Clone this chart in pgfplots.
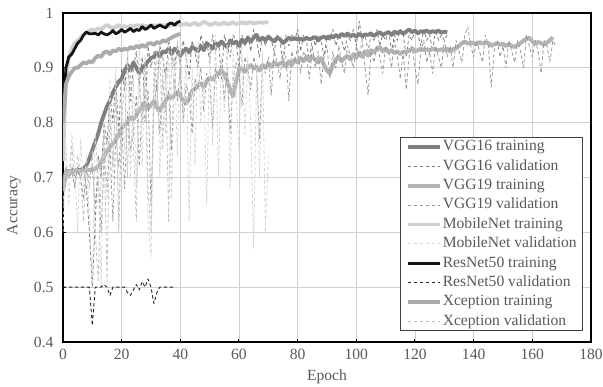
\documentclass[border=0pt]{standalone}
\usepackage{fontspec}
\setmainfont{Liberation Serif}
\usepackage{pgfplots}
\pgfplotsset{compat=1.18}
\definecolor{gridc}{HTML}{D0D0D0}
\definecolor{labc}{HTML}{595959}
\definecolor{legc}{HTML}{404040}
\definecolor{v16t}{HTML}{808080}
\definecolor{v16v}{HTML}{7A7A7A}
\definecolor{v19t}{HTML}{B4B4B4}
\definecolor{v19v}{HTML}{999999}
\definecolor{mbt}{HTML}{D0D0D0}
\definecolor{mbv}{HTML}{D4D4D4}
\definecolor{rnt}{HTML}{141414}
\definecolor{rnv}{HTML}{262626}
\definecolor{xct}{HTML}{ABABAB}
\definecolor{xcv}{HTML}{C0C0C0}
\newcommand\cfont{\fontsize{15.6}{18}\selectfont}
\begin{document}
\begin{tikzpicture}
\useasboundingbox (-63pt,-44pt) rectangle (540pt,342pt);
\begin{axis}[
 scale only axis, width=528pt, height=329pt,
 xmin=0, xmax=180, ymin=0.4, ymax=1,
 xtick={0,20,...,180}, ytick={0.4,0.5,0.6,0.7,0.8,0.9,1},
 yticklabels={0.4,0.5,0.6,0.7,0.8,0.9,1},
 xtick pos=bottom, ytick pos=left,
 grid=major, grid style={color=gridc, line width=0.8pt},
 axis line style={black, line width=1.8pt},
 tick style={black, line width=1pt}, major tick length=3pt, tick align=inside,
 ticklabel style={font=\cfont, text=labc},
 /pgf/number format/assume math mode=true,
 yticklabel shift=6pt, xticklabel shift=4pt,
 xlabel={Epoch}, ylabel={Accuracy},
 label style={font=\cfont, text=labc},
 xlabel style={at={(axis description cs:0.5,-0.106)}, anchor=center},
 ylabel style={at={(axis description cs:-0.0928,0.416)}, anchor=center},
 legend cell align=left,
 legend style={at={(axis description cs:0.985,0.033)}, anchor=south east,
   draw=legc, line width=0.8pt, fill=white, font=\cfont, text=labc,
   inner xsep=5pt, inner ysep=2pt, row sep=4.9pt,
   nodes={inner xsep=1pt, inner ysep=0pt, text height=11pt, text depth=3.5pt}},
 legend image code/.code={\draw[#1] (0pt,0pt) -- (32pt,0pt);},
 every axis plot/.append style={line join=round},
]
% VGG16 training
\addplot[v16t, line width=3.8pt] coordinates {
(0,0.68)(1,0.71)(2,0.712)(3,0.712)(4,0.713)(5,0.713)(6,0.714)(7,0.716)(8,0.722)(9,0.735)
(10,0.75)(11,0.765)(12,0.78)(13,0.8)(14,0.815)(15,0.83)(16,0.84)(17,0.855)(18,0.865)(19,0.875)
(20,0.88)(21,0.895)(22,0.905)(23,0.895)(24,0.91)(25,0.9)(26,0.89)(27,0.9)(28,0.905)(29,0.912)
(30,0.918)(31,0.92)(32,0.928)(33,0.92)(34,0.93)(35,0.928)(36,0.935)(37,0.925)(38,0.935)(39,0.93)
(40,0.922)(41,0.93)(42,0.935)(43,0.928)(44,0.938)(45,0.935)(46,0.93)(47,0.94)(48,0.932)(49,0.945)
(50,0.94)(51,0.935)(52,0.945)(53,0.94)(54,0.948)(55,0.942)(56,0.938)(57,0.95)(58,0.944)(59,0.948)
(60,0.94)(61,0.952)(62,0.945)(63,0.955)(64,0.948)(65,0.955)(66,0.96)(67,0.95)(68,0.955)(69,0.95)
(70,0.957)(71,0.952)(72,0.948)(73,0.955)(74,0.952)(75,0.945)(76,0.95)(77,0.955)(78,0.952)(79,0.954)
(80,0.952)(81,0.953)(82,0.951)(83,0.955)(84,0.952)(85,0.954)(86,0.956)(87,0.95)(88,0.955)(89,0.957)
(90,0.953)(91,0.958)(92,0.955)(93,0.96)(94,0.956)(95,0.962)(96,0.958)(97,0.963)(98,0.958)(99,0.96)
(100,0.957)(101,0.962)(102,0.958)(103,0.961)(104,0.96)(105,0.963)(106,0.958)(107,0.962)(108,0.965)(109,0.96)
(110,0.963)(111,0.965)(112,0.96)(113,0.966)(114,0.963)(115,0.967)(116,0.962)(117,0.966)(118,0.97)(119,0.965)
(120,0.968)(121,0.963)(122,0.967)(123,0.965)(124,0.968)(125,0.964)(126,0.967)(127,0.965)(128,0.968)(129,0.964)
(130,0.966)(131,0.965)};
% VGG16 validation
\addplot[v16v, line width=0.8pt, dash pattern=on 3.5pt off 2.5pt] coordinates {
(0,0.7)(1,0.71)(2,0.7)(3,0.72)(4,0.7)(5,0.71)(6,0.7)(7,0.72)(8,0.68)(9,0.6)
(10,0.5)(11,0.62)(12,0.74)(13,0.7)(14,0.8)(15,0.76)(16,0.85)(17,0.8)(18,0.88)(19,0.78)
(20,0.9)(21,0.86)(22,0.92)(23,0.84)(24,0.9)(25,0.93)(26,0.87)(27,0.92)(28,0.82)(29,0.94)
(30,0.9)(31,0.93)(32,0.86)(33,0.94)(34,0.92)(35,0.88)(36,0.95)(37,0.93)(38,0.9)(39,0.94)
(40,0.91)(41,0.95)(42,0.92)(43,0.88)(44,0.95)(45,0.93)(46,0.9)(47,0.96)(48,0.94)(49,0.95)
(50,0.91)(51,0.96)(52,0.93)(53,0.95)(54,0.88)(55,0.96)(56,0.94)(57,0.92)(58,0.96)(59,0.95)
(60,0.9)(61,0.96)(62,0.94)(63,0.96)(64,0.93)(65,0.97)(66,0.95)(67,0.92)(68,0.96)(69,0.94)
(70,0.96)(71,0.95)(72,0.93)(73,0.96)(74,0.95)(75,0.9)(76,0.96)(77,0.94)(78,0.96)(79,0.95)
(80,0.97)(81,0.93)(82,0.96)(83,0.95)(84,0.91)(85,0.96)(86,0.94)(87,0.96)(88,0.95)(89,0.92)
(90,0.96)(91,0.95)(92,0.97)(93,0.94)(94,0.96)(95,0.95)(96,0.93)(97,0.96)(98,0.95)(99,0.97)
(100,0.94)(101,0.985)(102,0.95)(103,0.96)(104,0.93)(105,0.96)(106,0.95)(107,0.97)(108,0.94)(109,0.96)
(110,0.95)(111,0.97)(112,0.93)(113,0.96)(114,0.95)(115,0.97)(116,0.96)(117,0.92)(118,0.96)(119,0.95)
(120,0.97)(121,0.96)(122,0.94)(123,0.97)(124,0.95)(125,0.96)(126,0.93)(127,0.97)(128,0.95)(129,0.96)
(130,0.95)(131,0.96)};
% VGG19 training
\addplot[v19t, line width=4pt] coordinates {
(0,0.675)(1,0.71)(2,0.711)(3,0.711)(4,0.712)(5,0.712)(6,0.712)(7,0.713)(8,0.713)(9,0.714)
(10,0.714)(11,0.716)(12,0.72)(13,0.728)(14,0.738)(15,0.748)(16,0.756)(17,0.762)(18,0.768)(19,0.778)
(20,0.79)(21,0.795)(22,0.8)(23,0.81)(24,0.806)(25,0.815)(26,0.822)(27,0.83)(28,0.835)(29,0.826)
(30,0.832)(31,0.84)(32,0.828)(33,0.822)(34,0.832)(35,0.84)(36,0.848)(37,0.845)(38,0.85)(39,0.856)
(40,0.85)(41,0.84)(42,0.835)(43,0.845)(44,0.858)(45,0.862)(46,0.868)(47,0.872)(48,0.865)(49,0.875)
(50,0.882)(51,0.878)(52,0.885)(53,0.89)(54,0.896)(55,0.888)(56,0.875)(57,0.86)(58,0.848)(59,0.875)
(60,0.895)(61,0.9)(62,0.893)(63,0.9)(64,0.905)(65,0.898)(66,0.902)(67,0.895)(68,0.905)(69,0.9)
(70,0.908)(71,0.902)(72,0.91)(73,0.905)(74,0.908)(75,0.91)(76,0.902)(77,0.912)(78,0.905)(79,0.915)
(80,0.91)(81,0.918)(82,0.912)(83,0.92)(84,0.914)(85,0.92)(86,0.915)(87,0.91)(88,0.918)(89,0.905)
(90,0.895)(91,0.89)(92,0.905)(93,0.915)(94,0.92)(95,0.912)(96,0.918)(97,0.922)(98,0.915)(99,0.925)
(100,0.918)(101,0.928)(102,0.92)(103,0.93)(104,0.922)(105,0.932)(106,0.928)(107,0.935)(108,0.938)(109,0.93)
(110,0.935)(111,0.928)(112,0.932)(113,0.927)(114,0.93)(115,0.925)(116,0.93)(117,0.928)(118,0.932)(119,0.935)
(120,0.93)(121,0.932)(122,0.935)(123,0.932)(124,0.934)(125,0.932)(126,0.935)(127,0.933)(128,0.932)(129,0.934)
(130,0.932)(131,0.935)(132,0.93)(133,0.934)(134,0.936)(135,0.94)(136,0.945)(137,0.948)(138,0.944)(139,0.946)
(140,0.945)(141,0.943)(142,0.947)(143,0.944)(144,0.946)(145,0.945)(146,0.94)(147,0.943)(148,0.945)(149,0.942)
(150,0.944)(151,0.94)(152,0.943)(153,0.94)(154,0.938)(155,0.942)(156,0.945)(157,0.95)(158,0.953)(159,0.955)
(160,0.948)(161,0.944)(162,0.947)(163,0.945)(164,0.942)(165,0.946)(166,0.95)(167,0.956)};
% VGG19 validation
\addplot[v19v, line width=0.8pt, dash pattern=on 3.5pt off 2.5pt] coordinates {
(0,0.7)(1,0.72)(2,0.7)(3,0.71)(4,0.68)(5,0.72)(6,0.7)(7,0.66)(8,0.71)(9,0.7)
(10,0.72)(11,0.65)(12,0.7)(13,0.6)(14,0.74)(15,0.68)(16,0.76)(17,0.62)(18,0.78)(19,0.72)
(20,0.8)(21,0.68)(22,0.82)(23,0.75)(24,0.78)(25,0.85)(26,0.72)(27,0.84)(28,0.8)(29,0.86)
(30,0.65)(31,0.83)(32,0.87)(33,0.78)(34,0.88)(35,0.82)(36,0.86)(37,0.75)(38,0.88)(39,0.84)
(40,0.9)(41,0.8)(42,0.87)(43,0.85)(44,0.78)(45,0.88)(46,0.86)(47,0.9)(48,0.82)(49,0.89)
(50,0.87)(51,0.79)(52,0.9)(53,0.88)(54,0.91)(55,0.84)(56,0.9)(57,0.78)(58,0.88)(59,0.91)
(60,0.89)(61,0.83)(62,0.92)(63,0.9)(64,0.86)(65,0.92)(66,0.9)(67,0.77)(68,0.91)(69,0.89)
(70,0.92)(71,0.85)(72,0.93)(73,0.91)(74,0.88)(75,0.93)(76,0.92)(77,0.84)(78,0.93)(79,0.91)
(80,0.94)(81,0.89)(82,0.93)(83,0.92)(84,0.88)(85,0.94)(86,0.9)(87,0.93)(88,0.87)(89,0.92)
(90,0.94)(91,0.88)(92,0.93)(93,0.9)(94,0.94)(95,0.91)(96,0.89)(97,0.94)(98,0.92)(99,0.9)
(100,0.94)(101,0.92)(102,0.95)(103,0.9)(104,0.85)(105,0.93)(106,0.91)(107,0.94)(108,0.92)(109,0.89)
(110,0.94)(111,0.93)(112,0.9)(113,0.95)(114,0.92)(115,0.88)(116,0.93)(117,0.86)(118,0.92)(119,0.94)
(120,0.9)(121,0.87)(122,0.93)(123,0.95)(124,0.91)(125,0.93)(126,0.89)(127,0.94)(128,0.92)(129,0.9)
(130,0.95)(131,0.92)(132,0.94)(133,0.9)(134,0.95)(135,0.93)(136,0.91)(137,0.96)(138,0.975)(139,0.94)
(140,0.92)(141,0.95)(142,0.93)(143,0.91)(144,0.96)(145,0.94)(146,0.865)(147,0.93)(148,0.95)(149,0.92)
(150,0.94)(151,0.9)(152,0.95)(153,0.93)(154,0.91)(155,0.95)(156,0.93)(157,0.9)(158,0.96)(159,0.94)
(160,0.92)(161,0.95)(162,0.93)(163,0.89)(164,0.95)(165,0.94)(166,0.91)(167,0.95)(168,0.94)};
% MobileNet training
\addplot[mbt, line width=3.8pt] coordinates {
(0,0.73)(1,0.88)(2,0.92)(3,0.935)(4,0.945)(5,0.95)(6,0.955)(7,0.96)(8,0.965)(9,0.968)
(10,0.97)(11,0.968)(12,0.972)(13,0.97)(14,0.975)(15,0.978)(16,0.975)(17,0.972)(18,0.975)(19,0.978)
(20,0.974)(21,0.976)(22,0.974)(23,0.977)(24,0.975)(25,0.978)(26,0.976)(27,0.978)(28,0.975)(29,0.977)
(30,0.976)(31,0.978)(32,0.976)(33,0.979)(34,0.977)(35,0.978)(36,0.976)(37,0.979)(38,0.977)(39,0.98)
(40,0.978)(41,0.979)(42,0.981)(43,0.978)(44,0.98)(45,0.982)(46,0.978)(47,0.98)(48,0.984)(49,0.982)
(50,0.978)(51,0.98)(52,0.982)(53,0.979)(54,0.98)(55,0.983)(56,0.979)(57,0.981)(58,0.983)(59,0.98)
(60,0.981)(61,0.983)(62,0.981)(63,0.982)(64,0.983)(65,0.981)(66,0.982)(67,0.983)(68,0.982)(69,0.983)
(70,0.983)};
% MobileNet validation
\addplot[mbv, line width=0.8pt, dash pattern=on 3.5pt off 2.5pt] coordinates {
(0,0.6)(1,0.76)(2,0.65)(3,0.78)(4,0.72)(5,0.6)(6,0.77)(7,0.68)(8,0.74)(9,0.62)
(10,0.5)(11,0.78)(12,0.7)(13,0.5)(14,0.8)(15,0.66)(16,0.88)(17,0.7)(18,0.9)(19,0.62)
(20,0.86)(21,0.75)(22,0.93)(23,0.7)(24,0.88)(25,0.68)(26,0.95)(27,0.72)(28,0.9)(29,0.62)
(30,0.555)(31,0.85)(32,0.93)(33,0.7)(34,0.9)(35,0.78)(36,0.95)(37,0.66)(38,0.92)(39,0.74)
(40,0.96)(41,0.8)(42,0.93)(43,0.62)(44,0.9)(45,0.72)(46,0.95)(47,0.8)(48,0.88)(49,0.65)
(50,0.94)(51,0.76)(52,0.96)(53,0.7)(54,0.92)(55,0.82)(56,0.95)(57,0.68)(58,0.93)(59,0.85)
(60,0.75)(61,0.94)(62,0.78)(63,0.92)(64,0.8)(65,0.57)(66,0.9)(67,0.7)(68,0.93)(69,0.6)
(70,0.74)};
% ResNet50 training
\addplot[rnt, line width=2.8pt] coordinates {
(0,0.81)(1,0.9)(2,0.92)(3,0.925)(4,0.935)(5,0.945)(6,0.95)(7,0.96)(8,0.965)(9,0.962)
(10,0.962)(11,0.963)(12,0.96)(13,0.965)(14,0.962)(15,0.96)(16,0.963)(17,0.968)(18,0.962)(19,0.965)
(20,0.97)(21,0.965)(22,0.968)(23,0.972)(24,0.966)(25,0.97)(26,0.968)(27,0.975)(28,0.97)(29,0.973)
(30,0.978)(31,0.972)(32,0.975)(33,0.978)(34,0.975)(35,0.973)(36,0.98)(37,0.982)(38,0.978)(39,0.983)
(40,0.985)};
% ResNet50 validation
\addplot[rnv, line width=0.9pt, dash pattern=on 3.5pt off 2.5pt] coordinates {
(0,0.5)(1,0.5)(2,0.5)(3,0.5)(4,0.5)(5,0.5)(6,0.5)(7,0.5)(8,0.5)(9,0.5)
(10,0.43)(11,0.5)(12,0.5)(13,0.5)(14,0.505)(15,0.5)(16,0.485)(17,0.5)(18,0.5)(19,0.5)
(20,0.5)(21,0.5)(22,0.49)(23,0.485)(24,0.495)(25,0.505)(26,0.495)(27,0.51)(28,0.5)(29,0.515)
(30,0.5)(31,0.47)(32,0.49)(33,0.5)(34,0.5)(35,0.5)(36,0.5)(37,0.5)(38,0.5)};
% Xception training
\addplot[xct, line width=3.8pt] coordinates {
(0,0.8)(1,0.87)(2,0.885)(3,0.893)(4,0.9)(5,0.9)(6,0.905)(7,0.91)(8,0.908)(9,0.912)
(10,0.91)(11,0.918)(12,0.922)(13,0.92)(14,0.928)(15,0.93)(16,0.925)(17,0.932)(18,0.93)(19,0.935)
(20,0.932)(21,0.935)(22,0.933)(23,0.938)(24,0.935)(25,0.94)(26,0.937)(27,0.942)(28,0.938)(29,0.944)
(30,0.945)(31,0.942)(32,0.947)(33,0.945)(34,0.95)(35,0.948)(36,0.952)(37,0.955)(38,0.958)(39,0.96)
(40,0.962)};
% Xception validation
\addplot[xcv, line width=0.8pt, dash pattern=on 3.5pt off 2.5pt] coordinates {
(0,0.65)(1,0.72)(2,0.7)(3,0.76)(4,0.68)(5,0.74)(6,0.7)(7,0.62)(8,0.72)(9,0.68)
(10,0.75)(11,0.6)(12,0.51)(13,0.7)(14,0.78)(15,0.51)(16,0.82)(17,0.72)(18,0.85)(19,0.6)
(20,0.8)(21,0.88)(22,0.7)(23,0.9)(24,0.76)(25,0.62)(26,0.88)(27,0.8)(28,0.92)(29,0.68)
(30,0.6)(31,0.9)(32,0.82)(33,0.94)(34,0.75)(35,0.9)(36,0.62)(37,0.93)(38,0.85)(39,0.95)
(40,0.9)};
\legend{VGG16 training, VGG16 validation, VGG19 training, VGG19 validation,
 MobileNet training, MobileNet validation, ResNet50 training, ResNet50 validation,
 Xception training, Xception validation}
\end{axis}
\end{tikzpicture}
\end{document}
